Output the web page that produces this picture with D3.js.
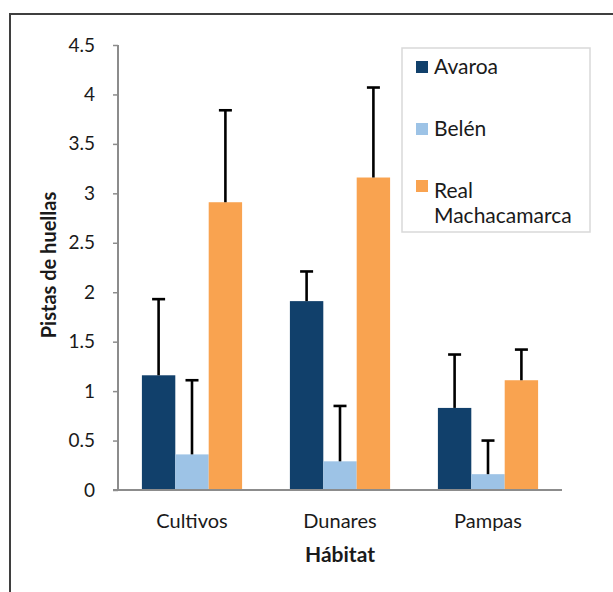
<!DOCTYPE html>
<html>
<head>
<meta charset="utf-8">
<script src="https://cdn.jsdelivr.net/npm/d3@7"></script>
<style>
  body { margin: 0; background: #fff; }
  text { font-family: Lato, "Open Sans", sans-serif; fill: #1a1a1a; }
</style>
</head>
<body>
<svg id="chart" width="613" height="592"></svg>
<script>
// data
const habitats = ["Cultivos", "Dunares", "Pampas"];
const sites = ["Avaroa", "Belén", "Real Machacamarca"];
const avaroaValues = [1.16, 1.91, 0.83];
const avaroaErrors = [0.77, 0.30, 0.54];
const belenValues = [0.36, 0.29, 0.16];
const belenErrors = [0.75, 0.56, 0.34];
const realValues = [2.91, 3.16, 1.11];
const realErrors = [0.93, 0.91, 0.31];
const yTicks = [0, 0.5, 1, 1.5, 2, 2.5, 3, 3.5, 4, 4.5];

const siteColors = ["#11406b", "#9dc3e6", "#f9a350"];

const seriesValues = [avaroaValues, belenValues, realValues];
const seriesErrors = [avaroaErrors, belenErrors, realErrors];

const svg = d3.select("#chart");

// outer frame (only top and left visible in the reference)
svg.append("path")
    .attr("d", "M10,592 L10,14 L613,14")
    .attr("fill", "none")
    .attr("stroke", "#3f3f3f")
    .attr("stroke-width", 2);

const yScale = d3.scaleLinear().domain([0, 4.5]).range([490, 45]);
const xScale = d3.scaleBand().domain(habitats).range([118, 562])
    .paddingInner(0.323).paddingOuter(0.1615);
const xSub = d3.scaleBand().domain(d3.range(sites.length)).range([0, xScale.bandwidth()]);

// bars
habitats.forEach(function (habitat, i) {
    const g = svg.append("g").attr("transform", "translate(" + xScale(habitat) + ",0)");
    sites.forEach(function (site, s) {
        const v = seriesValues[s][i];
        const e = seriesErrors[s][i];
        const cx = xSub(s) + xSub.bandwidth() / 2;
        g.append("rect")
            .attr("x", xSub(s))
            .attr("y", yScale(v))
            .attr("width", xSub.bandwidth())
            .attr("height", yScale(0) - yScale(v))
            .attr("fill", siteColors[s]);
        g.append("line")
            .attr("x1", cx).attr("x2", cx)
            .attr("y1", yScale(v)).attr("y2", yScale(v + e))
            .attr("stroke", "#000").attr("stroke-width", 2.6);
        g.append("line")
            .attr("x1", cx - 6.5).attr("x2", cx + 6.5)
            .attr("y1", yScale(v + e)).attr("y2", yScale(v + e))
            .attr("stroke", "#000").attr("stroke-width", 2.6);
    });
});

// y axis
const yAxis = svg.append("g")
    .attr("transform", "translate(118,0)")
    .call(d3.axisLeft(yScale).tickValues(yTicks).tickSize(5).tickPadding(18)
        .tickFormat(function (d) { return d; }));
yAxis.select(".domain").attr("stroke", "#8c8c8c").attr("stroke-width", 2)
    .attr("d", "M0,45 L0,490");
yAxis.selectAll(".tick line").attr("stroke", "#8c8c8c").attr("stroke-width", 1.5);
yAxis.selectAll(".tick text").style("font-size", "19px").attr("fill", "#1a1a1a");

// x axis
const xAxis = svg.append("g")
    .attr("transform", "translate(0,490)")
    .call(d3.axisBottom(xScale).tickSize(0).tickPadding(24));
xAxis.select(".domain").attr("stroke", "#8c8c8c").attr("stroke-width", 2)
    .attr("d", "M113,0 L562,0");
xAxis.selectAll(".tick text").style("font-size", "20px").attr("fill", "#1a1a1a");

// axis titles
svg.append("text")
    .attr("transform", "translate(56,265) rotate(-90)")
    .attr("text-anchor", "middle")
    .style("font-size", "20px")
    .style("font-weight", "bold")
    .text("Pistas de huellas");

svg.append("text")
    .attr("x", 340)
    .attr("y", 562)
    .attr("text-anchor", "middle")
    .style("font-size", "21px")
    .style("font-weight", "bold")
    .text("Hábitat");

// legend
const legend = svg.append("g");
legend.append("rect")
    .attr("x", 402).attr("y", 48)
    .attr("width", 188).attr("height", 184)
    .attr("fill", "#fff")
    .attr("stroke", "#d9d9d9").attr("stroke-width", 1.5);

const legendRows = [["Avaroa"], ["Belén"], ["Real", "Machacamarca"]];
const legendY = [67, 129, 186];
legendRows.forEach(function (lines, s) {
    legend.append("rect")
        .attr("x", 416).attr("y", legendY[s] - 6)
        .attr("width", 12).attr("height", 12)
        .attr("fill", siteColors[s]);
    const t = legend.append("text")
        .attr("x", 434).attr("y", legendY[s] + (lines.length > 1 ? 12 : 7))
        .style("font-size", "21px");
    lines.forEach(function (line, k) {
        t.append("tspan").attr("x", 434).attr("dy", k === 0 ? 0 : 25).text(line);
    });
});
</script>
</body>
</html>
